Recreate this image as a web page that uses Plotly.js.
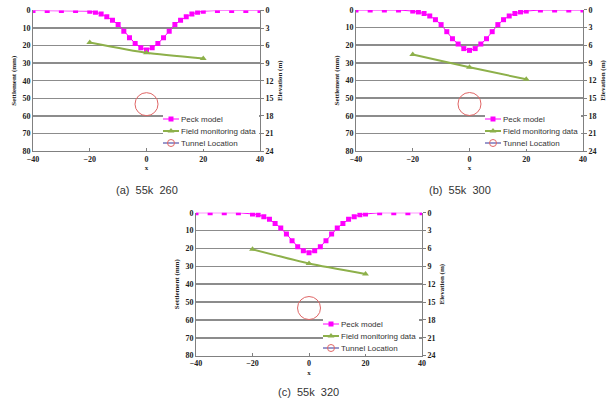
<!DOCTYPE html>
<html><head><meta charset="utf-8">
<script src="https://cdn.plot.ly/plotly-3.0.1.min.js"></script>
<style>html,body{margin:0;padding:0;background:#fff}#chart{width:616px;height:403px}</style>
</head><body><div id="chart"></div>
<script>
// Offsets x (m)
const peckX = [-40,-35,-30,-25,-20,-18,-16,-14,-12,-10,-8,-6,-4,-2,0,2,4,6,8,10,12,14,16,18,20,25,30,35,40];
// Peck model settlement (mm)
const peckA = [0,0,0,0,0.4,1.0,2.0,3.6,5.5,8.0,11.8,15.5,18.8,21.2,22.5,21.2,18.8,15.5,11.8,8.0,5.5,3.6,2.0,1.0,0.4,0,0,0,0];
const peckB = [0,0,0,0,0.6,1.1,2.0,3.4,5.5,8.3,12.3,16.3,19.3,21.9,22.9,21.9,19.3,16.3,12.3,8.3,5.5,3.4,2.0,1.1,0.6,0,0,0,0];
const peckC = [0,0,0,0,0.7,1.1,2.2,3.7,6.0,8.6,11.9,15.7,19.0,21.3,22.4,21.3,19.0,15.7,11.9,8.6,6.0,3.7,2.2,1.1,0.7,0,0,0,0];
// Field monitoring data
const fieldX = [-20,0,20];
const fieldA = [18.2,24.1,27.3];
const fieldB = [25.3,32.5,39.3];
const fieldC = [20.5,28.4,34.3];
// Tunnel location (elevation, m)
const tunnelX = [0];
const tunnelElev = [16];
const captions = ["(a)\u00a0 55k\u00a0 260","(b)\u00a0 55k\u00a0 300","(c)\u00a0 55k\u00a0 320"];
const seriesNames = ["Peck model","Field monitoring data","Tunnel Location"];

const peckColor = '#FF00FF', fieldColor = '#8DB04A', tunnelColor = '#E06666';
const tickFont = {family:'Liberation Serif', size:8, color:'#222', weight:'bold'};
const titleFont = {family:'Liberation Serif', size:7, color:'#222', weight:'bold'};

const panels = [
  {peck:peckA, field:fieldA, xd:[0.0536,0.4221], yd:[0.6253,0.974], cap:captions[0], cx:0.2386, cy:0.5285, lgx:163, lgy:113},
  {peck:peckB, field:fieldB, xd:[0.5779,0.9464], yd:[0.6253,0.9752], cap:captions[1], cx:0.7468, cy:0.5285, lgx:485, lgy:113},
  {peck:peckC, field:fieldC, xd:[0.3182,0.6851], yd:[0.1174,0.4722], cap:captions[2], cx:0.5016, cy:0.0273, lgx:323, lgy:318}
];

const W = 616, H = 403;
const data = [];
const layout = {
  width:W, height:H, margin:{l:0,r:0,t:0,b:0},
  paper_bgcolor:'#fff', plot_bgcolor:'#fff', showlegend:true, annotations:[]
};

panels.forEach((p, i) => {
  const n = i + 1;
  const xa = n === 1 ? 'x' : 'x' + n;
  const ya = n === 1 ? 'y' : 'y' + n;
  const ya2 = 'y' + (n + 3);
  const lg = n === 1 ? 'legend' : 'legend' + n;
  data.push({x:peckX, y:p.peck, xaxis:xa, yaxis:ya, legend:lg, name:seriesNames[0],
    mode:'lines+markers', line:{color:peckColor, width:1},
    marker:{symbol:'square', size:5, color:peckColor}});
  data.push({x:fieldX, y:p.field, xaxis:xa, yaxis:ya, legend:lg, name:seriesNames[1],
    mode:'lines+markers', line:{color:fieldColor, width:2, shape:'spline', smoothing:0.6},
    marker:{symbol:'triangle-up', size:6, color:fieldColor}});
  // tunnel marker drawn at full size (not in legend)
  data.push({x:tunnelX, y:tunnelElev, xaxis:xa, yaxis:ya2, legend:lg, name:seriesNames[2],
    showlegend:false, mode:'markers',
    marker:{symbol:'circle-open', size:23, color:tunnelColor, line:{width:1, color:tunnelColor}}});
  // legend entry for tunnel location (small symbol, no drawn point)
  data.push({x:[null], y:[null], xaxis:xa, yaxis:ya2, legend:lg, name:seriesNames[2],
    mode:'lines+markers', line:{color:'#333399', width:1},
    marker:{symbol:'circle-open', size:7, color:tunnelColor, line:{width:1, color:tunnelColor}}});

  layout['xaxis' + (n === 1 ? '' : n)] = {
    domain:p.xd, anchor:ya, range:[-40,40], tickvals:[-40,-20,0,20,40],
    showgrid:false, zeroline:false, showline:true, linecolor:'#808080', linewidth:1,
    ticks:'inside', ticklen:3, tickcolor:'#808080', tickfont:tickFont,
    title:{text:'x', font:titleFont, standoff:2}
  };
  layout['yaxis' + (n === 1 ? '' : n)] = {
    domain:p.yd, anchor:xa, range:[80,0], tickvals:[0,10,20,30,40,50,60,70,80],
    showgrid:true, gridcolor:'#8c8c8c', gridwidth:1.5, zeroline:false,
    showline:true, linecolor:'#808080', linewidth:1, ticks:'', tickfont:tickFont,
    title:{text:'Settlement (mm)', font:titleFont, standoff:4}
  };
  layout['yaxis' + (n + 3)] = {
    overlaying:ya, anchor:xa, side:'right', range:[24,0], tickvals:[0,3,6,9,12,15,18,21,24],
    showgrid:false, zeroline:false, showline:true, linecolor:'#808080', linewidth:1,
    ticks:'outside', ticklen:3, tickcolor:'#808080', tickfont:tickFont,
    title:{text:'Elevation (m)', font:titleFont, standoff:4}
  };
  layout[lg] = {
    x:p.xd[1] - 0.004, xanchor:'right', y:p.yd[0] + 0.008, yanchor:'bottom',
    bgcolor:'#fff', borderwidth:0, font:{family:'Liberation Sans', size:8, color:'#333'},
    itemsizing:'trace', tracegroupgap:0, itemwidth:30
  };
  layout.annotations.push({text:p.cap, xref:'paper', yref:'paper', x:p.cx, y:p.cy,
    xanchor:'center', yanchor:'middle', showarrow:false,
    font:{family:'Liberation Sans', size:11, color:'#333'}});
});

// Compact the legends to match the tight Excel-style legend box
const ROW_H = 12, LINE_LEN = 16, TEXT_X = 18;
function fixItem(it, k) {
  it.setAttribute('transform', 'translate(0,' + (6 + k * ROW_H) + ')');
  it.querySelectorAll('.legendlines path').forEach(pa => pa.setAttribute('d', 'M0,0h' + LINE_LEN));
  it.querySelectorAll('.legendpoints path').forEach(pa => pa.setAttribute('transform', 'translate(' + (LINE_LEN / 2) + ',0)'));
  let w = 0;
  it.querySelectorAll('text').forEach(t => {
    t.removeAttribute('transform');
    const bb = t.getBBox();
    t.setAttribute('transform', 'translate(' + (TEXT_X - bb.x) + ',0)');
    w = Math.max(w, TEXT_X + bb.width + 3);
  });
  return w;
}
function compactLegends(gd) {
  panels.forEach((p, i) => {
    const id = i === 0 ? 'legend' : 'legend' + (i + 1);
    const g = gd.querySelector('g.' + id);
    if (!g) return;
    let maxW = 0;
    g.querySelectorAll('g.traces').forEach((it, k) => { maxW = Math.max(maxW, fixItem(it, k)); });
    const h = ROW_H * 3;
    g.querySelectorAll('rect.bg').forEach(bg => { bg.setAttribute('width', maxW); bg.setAttribute('height', h); bg.setAttribute('x', 0); bg.setAttribute('y', 0); });
    g.querySelectorAll('clipPath rect, rect.scrollbox-bg').forEach(r => { r.setAttribute('width', maxW); r.setAttribute('height', h); });
    g.querySelectorAll('g.scrollbox').forEach(sb => { sb.setAttribute('transform', 'translate(0,0)'); sb.removeAttribute('clip-path'); });
    g.setAttribute('transform', 'translate(' + p.lgx + ',' + p.lgy + ')');
  });
}

Plotly.newPlot('chart', data, layout, {staticPlot:true}).then(gd => {
  compactLegends(gd);
  gd.on && gd.on('plotly_afterplot', () => compactLegends(gd));
  setTimeout(() => compactLegends(gd), 50);
  setTimeout(() => compactLegends(gd), 400);
});
</script></body></html>
